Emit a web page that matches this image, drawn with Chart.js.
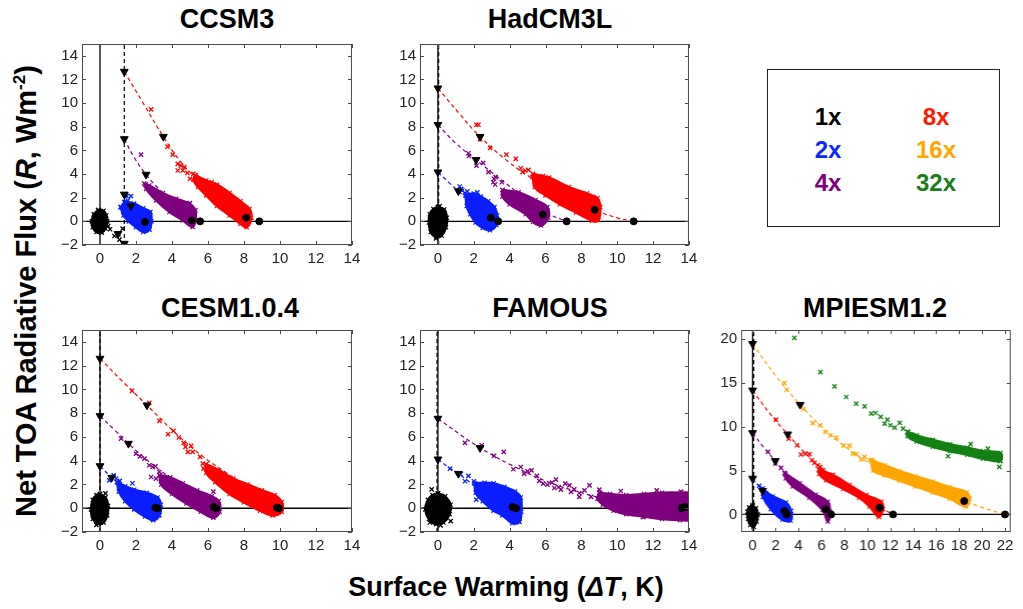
<!DOCTYPE html>
<html>
<head>
<meta charset="utf-8">
<script src="https://cdn.jsdelivr.net/npm/chart.js@4.4.1/dist/chart.umd.min.js"></script>
<style>
body { margin: 0; background: #fff; width: 1023px; height: 609px; overflow: hidden; position: relative; font-family: 'Liberation Sans', Arial, sans-serif; }
.wrap { position: absolute; }
.title { position: absolute; font-weight: bold; font-size: 27px; transform: translate(-50%, -50%); white-space: nowrap; color: #000; }
.ylab { position: absolute; left: 26px; top: 291px; font-weight: bold; font-size: 29px; white-space: nowrap; transform: translate(-50%, -50%) rotate(-90deg); }
.xlab { position: absolute; left: 506px; top: 587px; font-weight: bold; font-size: 27px; white-space: nowrap; transform: translate(-50%, -50%); }
.ylab sup { font-size: 17px; }
#legend { position: absolute; left: 767px; top: 69px; width: 231px; height: 156px; border: 1.5px solid #222; }
.lg { position: absolute; font-weight: bold; font-size: 24px; transform: translate(-50%, -50%); }
</style>
</head>
<body>
<div class="title" style="left:227px;top:19px">CCSM3</div>
<div class="title" style="left:550px;top:19px">HadCM3L</div>
<div class="title" style="left:230px;top:308px">CESM1.0.4</div>
<div class="title" style="left:550px;top:308px">FAMOUS</div>
<div class="title" style="left:875px;top:308px">MPIESM1.2</div>
<div class="ylab">Net TOA Radiative Flux (<i>R</i>, Wm<sup>-2</sup>)</div>
<div class="xlab">Surface Warming (<i>ΔT</i>, K)</div>
<div id="legend">
  <div class="lg" style="left:60px;top:47px;color:#000">1x</div>
  <div class="lg" style="left:60px;top:80px;color:#0a28ff">2x</div>
  <div class="lg" style="left:60px;top:113px;color:#7f007f">4x</div>
  <div class="lg" style="left:168px;top:47px;color:#ff1a00">8x</div>
  <div class="lg" style="left:168px;top:80px;color:#ffa500">16x</div>
  <div class="lg" style="left:168px;top:113px;color:#1a7d1a">32x</div>
</div>
<div class="wrap" id="w-ccsm3"><canvas id="ccsm3"></canvas></div>
<div class="wrap" id="w-had"><canvas id="had"></canvas></div>
<div class="wrap" id="w-cesm"><canvas id="cesm"></canvas></div>
<div class="wrap" id="w-fam"><canvas id="fam"></canvas></div>
<div class="wrap" id="w-mpi"><canvas id="mpi"></canvas></div>
<script>
const C1 = '#000000', C2 = '#0a1eff', C4 = '#7f007f', C8 = '#ff0000', C16 = '#ffa500', C32 = '#138013';

const X_TICKS = [0, 2, 4, 6, 8, 10, 12, 14];
const Y_TICKS = [-2, 0, 2, 4, 6, 8, 10, 12, 14];
const MPI_X_TICKS = [0, 2, 4, 6, 8, 10, 12, 14, 16, 18, 20, 22];
const MPI_Y_TICKS = [0, 5, 10, 15, 20];

// ---- CCSM3 ----
const CCSM3_FIX_X = 1.35;
const CCSM3_TRI = [[1.35,12.67],[3.52,7.16],[1.35,6.97],[2.56,3.96],[1.35,2.28],[1.72,1.29],[1.35,-1.88],[1.0,-1.05]];
const CCSM3_DOT = [[2.5,-0.05],[5.1,0.08],[5.56,0],[8.12,0.31],[8.85,0]];
const CCSM3_BLOB_1X = [[-0.1,0.95],[0.2,0.9],[0.35,0.5],[0.4,0],[0.3,-0.6],[0.1,-0.95],[-0.2,-0.9],[-0.4,-0.5],[-0.45,0],[-0.35,0.6],[-0.1,0.95]];
const CCSM3_SCAT_1X = [[0.56,-0.67],[0.8,-1.24],[1.02,-1.1],[1.08,-1.55],[1.26,-0.62],[0.45,-0.4]];
const CCSM3_BLOB_2X = [[1.15,1.2],[1.4,1.6],[1.9,1.5],[2.4,1.1],[2.8,0.8],[2.85,0.0],[2.75,-0.7],[2.4,-0.9],[2.0,-0.5],[1.6,0.0],[1.3,0.5],[1.15,1.2]];
const CCSM3_SCAT_2X = [[1.48,2.13],[1.72,2.13],[1.35,1.63],[1.55,1.75]];
const CCSM3_FIT_2X = [[1.35,2.28],[1.72,1.29],[2.1,0.55],[2.5,0]];
const CCSM3_BLOB_4X = [[2.52,3.12],[2.74,3.03],[3.49,2.39],[4.23,1.91],[4.97,1.49],[5.3,0.93],[5.3,0.1],[5.15,-0.48],[4.6,0.08],[3.86,0.79],[3.12,1.77],[2.56,2.75],[2.52,3.12]];
const CCSM3_SCAT_4X = [[2.28,5.65],[2.45,3.2],[5.0,1.55]];
const CCSM3_FIT_4X = [[1.35,6.97],[1.9,5.4],[2.56,3.96],[3.3,2.7],[4.2,1.5],[5.0,0.6],[5.56,0]];
const CCSM3_BLOB_8X = [[5.3,3.9],[5.9,3.45],[6.5,3.1],[7.2,2.4],[7.8,1.7],[8.3,1.05],[8.4,0.3],[8.15,-0.5],[7.8,-0.2],[7.2,0.5],[6.5,1.3],[5.9,2.2],[5.45,2.9],[5.2,3.5],[5.3,3.9]];
const CCSM3_SCAT_8X = [[2.84,9.47],[3.75,6.32],[4.04,5.65],[4.32,4.86],[4.5,4.72],[4.69,4.58],[4.6,4.3],[4.32,4.3],[4.85,4.1],[5.19,4.02],[5.34,3.74],[5.0,3.6],[7.57,1.83],[6.2,3.3]];
const CCSM3_FIT_8X = [[1.35,12.67],[2.4,10.0],[3.52,7.16],[4.5,5.0],[5.5,3.4],[6.5,2.1],[7.5,1.05],[8.2,0.4],[8.85,0]];

// ---- HadCM3L ----
const HAD_FIX_X = 0.04;
const HAD_TRI = [[0,11.26],[2.35,7.16],[0,8.17],[2.13,5.2],[0,4.16],[1.14,2.56]];
const HAD_DOT = [[2.95,0.31],[3.36,0],[5.85,0.59],[7.18,0],[8.74,0.98],[10.92,0]];
const HAD_BLOB_1X = [[0,1.2],[0.35,1.0],[0.5,0.3],[0.45,-0.5],[0.2,-1.2],[-0.1,-1.35],[-0.4,-0.9],[-0.5,-0.1],[-0.45,0.6],[-0.25,1.05],[0,1.2]];
const HAD_SCAT_1X = [[-0.1,-1.45],[0.1,1.3]];
const HAD_BLOB_2X = [[1.55,2.2],[2.0,2.35],[2.4,2.1],[2.8,1.7],[3.15,1.2],[3.3,0.5],[3.25,-0.3],[2.9,-0.75],[2.5,-0.55],[2.1,-0.1],[1.8,0.6],[1.6,1.3],[1.55,2.2]];
const HAD_SCAT_2X = [[1.21,2.95],[1.36,2.61],[1.64,2.53],[1.5,2.4],[1.3,2.75],[2.2,2.45]];
const HAD_FIT_2X = [[0,4.16],[0.6,3.3],[1.14,2.56],[1.8,1.7],[2.5,0.9],[2.95,0.4],[3.36,0]];
const HAD_BLOB_4X = [[3.6,2.65],[4.5,2.45],[5.45,1.8],[6.1,1.2],[6.15,0.3],[5.75,-0.35],[5.3,-0.05],[4.9,0.6],[4.0,1.45],[3.6,2.1],[3.6,2.65]];
const HAD_SCAT_4X = [[1.7,5.76],[1.73,5.53],[2.15,4.72],[2.52,4.94],[2.82,4.16],[3.13,3.6],[3.08,3.31],[3.19,3.12],[3.56,3.31],[3.69,2.42],[3.22,3.74]];
const HAD_FIT_4X = [[0,8.17],[1.0,6.6],[2.13,5.2],[3.2,3.9],[4.3,2.6],[5.3,1.4],[6.2,0.6],[7.18,0]];
const HAD_BLOB_8X = [[5.3,4.0],[6.2,3.7],[7.3,2.9],[8.3,2.35],[8.9,1.95],[9.05,1.2],[8.95,0.1],[8.6,0.05],[7.7,0.75],[6.8,1.45],[6.0,2.2],[5.4,2.9],[5.3,4.0]];
const HAD_SCAT_8X = [[2.14,8.17],[2.26,8.17],[2.91,6.21],[3.82,5.65],[4.34,5.28],[4.62,4.49],[4.87,4.3],[5.05,4.35],[5.28,3.74],[5.84,3.82],[4.72,4.16],[2.35,6.95]];
const HAD_FIT_8X = [[0,11.26],[1.2,9.1],[2.35,7.16],[3.8,5.2],[5.3,3.6],[6.8,2.4],[8.0,1.5],[9.0,0.8],[10.0,0.3],[10.92,0]];

// ---- CESM1.0.4 ----
const CESM_FIX_X = 0.0;
const CESM_TRI = [[0,12.6],[2.61,8.67],[0,7.77],[1.58,5.44],[0,3.56],[0.65,2.58]];
const CESM_DOT = [[3.08,0.05],[3.2,0],[6.32,0.1],[6.45,0],[9.83,0.05],[9.95,0]];
const CESM_BLOB_1X = [[0,1.2],[0.3,0.9],[0.45,0.2],[0.4,-0.6],[0.2,-1.2],[-0.1,-1.3],[-0.4,-0.9],[-0.5,-0.1],[-0.4,0.7],[-0.2,1.1],[0,1.2]];
const CESM_SCAT_1X = [[-0.2,-1.4],[0.3,1.25]];
const CESM_BLOB_2X = [[0.95,2.2],[1.4,1.85],[1.9,1.55],[2.6,1.3],[3.2,0.9],[3.38,0.3],[3.3,-0.6],[2.95,-1.0],[2.5,-0.7],[1.9,-0.1],[1.4,0.6],[1.05,1.4],[0.95,2.2]];
const CESM_SCAT_2X = [[0.76,2.77],[0.52,2.35],[0.9,2.5],[1.1,2.3],[1.8,2.1]];
const CESM_FIT_2X = [[0,3.56],[0.65,2.58],[1.4,1.6],[2.2,0.8],[3.2,0]];
const CESM_BLOB_4X = [[3.3,2.8],[3.9,2.6],[4.6,2.1],[5.4,1.5],[6.2,1.0],[6.6,0.6],[6.65,-0.3],[6.3,-0.8],[5.6,-0.3],[4.8,0.4],[4.0,1.2],[3.4,2.0],[3.3,2.8]];
const CESM_SCAT_4X = [[1.17,5.86],[2.0,4.6],[2.22,4.37],[2.47,4.18],[2.74,3.62],[2.93,3.47],[3.08,3.53],[2.84,2.63],[3.3,3.05],[3.11,2.49],[6.3,1.4]];
const CESM_FIT_4X = [[0,7.77],[0.8,6.6],[1.58,5.44],[2.5,4.2],[3.5,3.0],[4.6,1.9],[5.6,0.9],[6.45,0]];
const CESM_BLOB_8X = [[5.9,3.7],[6.6,3.2],[7.4,2.5],[8.2,2.0],[9.0,1.5],[9.7,1.1],[10.1,0.5],[10.1,-0.3],[9.6,-0.6],[8.9,-0.2],[8.0,0.5],[7.2,1.2],[6.4,2.2],[5.9,3.0],[5.9,3.7]];
const CESM_SCAT_8X = [[1.78,9.88],[2.74,8.87],[3.3,7.35],[3.78,6.23],[4.08,6.51],[4.38,5.95],[4.65,5.5],[4.75,5.16],[5.06,5.25],[4.88,4.74],[5.15,4.74],[5.56,4.32],[5.71,3.76],[5.75,3.33]];
const CESM_FIT_8X = [[0,12.6],[1.3,10.6],[2.61,8.67],[4.0,6.6],[5.5,4.6],[7.0,3.0],[8.5,1.5],[9.95,0]];

// ---- FAMOUS ----
const FAM_FIX_X = -0.05;
const FAM_TRI = [[0,7.55],[2.35,5.08],[0,4.12],[1.14,2.91]];
const FAM_DOT = [[4.16,0.1],[4.36,0],[13.6,0.02],[13.8,0.1]];
const FAM_BLOB_1X = [[0,1.25],[0.4,1.0],[0.7,0.3],[0.65,-0.5],[0.3,-1.2],[-0.1,-1.35],[-0.5,-0.9],[-0.7,-0.1],[-0.55,0.7],[-0.3,1.1],[0,1.25]];
const FAM_SCAT_1X = [[-0.35,1.59],[0.71,-1.08],[0.15,-1.44],[-0.45,-1.2]];
const FAM_BLOB_2X = [[2.05,2.1],[2.6,2.15],[3.1,2.1],[3.7,1.8],[4.3,1.4],[4.62,0.9],[4.65,-0.3],[4.55,-1.15],[4.15,-1.25],[3.6,-0.6],[3.1,-0.2],[2.5,0.6],[2.1,1.3],[2.05,2.1]];
const FAM_SCAT_2X = [[0.67,3.33],[1.27,2.86],[1.7,2.72],[1.51,2.27],[2.01,2.27],[2.14,0.72]];
const FAM_FIT_2X = [[0,4.12],[0.6,3.45],[1.14,2.91],[2.0,1.95],[3.0,1.0],[3.8,0.4],[4.36,0]];
const FAM_BLOB_4X = [[9.0,1.3],[9.6,1.2],[10.5,1.1],[11.5,1.2],[12.5,1.3],[13.5,1.3],[14.1,1.2],[14.1,-0.9],[13.5,-1.0],[12.5,-0.9],[11.5,-0.7],[10.5,-0.5],[9.8,-0.2],[9.2,0.3],[8.9,0.8],[9.0,1.3]];
const FAM_SCAT_4X = [[1.51,5.5],[2.44,5.3],[3.13,4.4],[3.67,4.74],[4.21,3.28],[4.62,3.47],[4.81,2.91],[5.0,3.1],[5.22,3.19],[5.52,2.72],[5.65,2.3],[5.87,2.07],[6.11,1.98],[6.36,2.15],[6.49,1.7],[6.58,2.41],[6.73,1.79],[6.86,1.57],[7.1,2.07],[7.42,1.37],[7.33,1.93],[7.6,1.59],[7.88,1.28],[7.88,0.95],[8.17,1.5],[8.45,1.93],[8.54,0.95],[9.0,1.57],[9.06,1.23],[13.57,1.4],[11.43,-0.75],[10.2,1.45],[12.2,1.5]];
const FAM_FIT_4X = [[0,7.55],[1.2,6.25],[2.35,5.08],[4.0,3.7],[6.0,2.3],[8.0,1.3],[10.0,0.6],[12.0,0.2],[14.0,0.0]];

// ---- MPIESM1.2 ----
const MPI_FIX_X = 0.1;
const MPI_TRI = [[0,19.43],[4.14,12.5],[0,14.13],[3.06,9.13],[0,9.28],[1.98,6.1],[0,4.09],[0.87,2.69]];
const MPI_DOT = [[2.77,0.38],[2.97,0],[6.35,0.57],[6.85,0],[11.07,0.76],[12.24,0],[18.44,1.52],[22.0,0]];
const MPI_BLOB_1X = [[0,1.0],[0.3,0.7],[0.45,0],[0.35,-0.8],[0.1,-1.4],[-0.2,-1.2],[-0.4,-0.5],[-0.45,0.3],[-0.3,0.8],[0,1.0]];
const MPI_BLOB_2X = [[0.8,2.9],[1.75,2.05],[2.9,1.35],[3.35,0.4],[3.3,-0.7],[2.6,-0.6],[1.6,0.6],[0.9,2.0],[0.8,2.9]];
const MPI_SCAT_2X = [[0.58,3.26],[0.87,2.95],[1.17,2.39]];
const MPI_FIT_2X = [[0,4.09],[0.87,2.69],[1.8,1.3],[2.5,0.5],[2.97,0]];
const MPI_BLOB_4X = [[2.8,4.7],[4.1,3.55],[5.5,2.25],[6.55,1.45],[6.75,0.3],[6.55,-0.8],[6.1,0.5],[4.95,1.9],[3.5,3.2],[2.9,4.1],[2.8,4.7]];
const MPI_SCAT_4X = [[1.34,7.12],[1.98,5.8],[2.48,5.3],[2.86,4.55]];
const MPI_FIT_4X = [[0,9.28],[1.0,7.6],[1.98,6.1],[3.0,4.5],[4.2,2.9],[5.5,1.4],[6.85,0]];
const MPI_BLOB_8X = [[5.8,5.1],[7.0,4.5],[8.45,3.35],[9.9,2.2],[11.2,1.45],[11.35,0.6],[11.0,-0.3],[10.2,0.9],[9.3,1.9],[7.9,2.9],[6.4,3.9],[5.8,4.6],[5.8,5.1]];
const MPI_SCAT_8X = [[2.04,10.8],[3.15,8.64],[3.88,7.88],[4.22,6.82],[4.6,6.93],[4.95,6.86],[5.16,6.17],[5.39,5.87],[5.68,5.6],[5.89,5.42],[6.12,5.04]];
const MPI_FIT_8X = [[0,14.13],[1.5,11.5],[3.06,9.13],[4.5,7.1],[6.0,5.3],[7.5,3.8],[9.0,2.4],[10.5,1.2],[12.24,0]];
const MPI_BLOB_16X = [[10.4,6.2],[11.5,5.6],[12.8,4.95],[14.2,4.35],[15.7,3.75],[17.2,3.1],[18.65,2.5],[18.9,1.8],[18.6,0.9],[17.2,1.8],[15.7,2.5],[14.2,3.2],[12.8,3.85],[11.5,4.45],[10.5,5.0],[10.4,6.2]];
const MPI_SCAT_16X = [[2.77,14.96],[2.97,14.2],[4.43,12.0],[5.24,10.4],[5.89,10.15],[6.35,9.39],[6.79,9.02],[7.28,8.75],[7.93,7.84],[8.45,7.84],[8.74,6.93],[9.03,6.86],[9.76,6.55],[9.47,6.25],[10.2,6.17],[10.5,5.87]];
const MPI_FIT_16X = [[0,19.43],[2.0,15.8],[4.14,12.5],[6.0,10.0],[8.0,7.8],[10.0,6.0],[12.0,4.6],[14.0,3.4],[16.0,2.5],[18.44,1.52],[20.0,0.8],[22.0,0]];
const MPI_BLOB_32X = [[13.5,9.4],[14.3,9.0],[15.7,8.5],[17.2,8.0],[18.7,7.6],[20.1,7.2],[21.6,7.0],[21.6,6.1],[20.1,6.35],[18.7,6.8],[17.2,7.2],[15.7,7.7],[14.3,8.3],[13.5,8.9],[13.5,9.4]];
const MPI_SCAT_32X = [[3.64,20.11],[5.91,16.21],[7.14,14.58],[8.16,13.37],[9.03,12.61],[9.76,12.31],[10.34,11.48],[10.72,11.55],[11.16,11.1],[11.5,10.34],[11.74,10.8],[12.0,10.15],[12.38,9.89],[12.82,10.42],[13.11,9.77],[13.55,9.39],[13.84,9.13],[14.13,8.9],[14.8,8.26],[15.21,8.37],[15.88,7.99],[16.32,7.69],[16.9,7.77],[17.48,7.5],[17.04,6.63],[17.92,7.31],[18.65,7.5],[18.94,7.01],[19.52,6.93],[20.1,6.74],[20.69,6.55],[21.42,6.55],[21.56,6.1],[21.5,5.42],[19.0,8.0],[20.5,7.5]];

const PANELS = [
  { id: 'ccsm3', box: [82, 44, 352, 245], xlim: [-1, 14], ylim: [-2, 15], xticks: X_TICKS, yticks: Y_TICKS, fixX: CCSM3_FIX_X,
    blobs: [[CCSM3_BLOB_1X, C1], [CCSM3_BLOB_2X, C2], [CCSM3_BLOB_4X, C4], [CCSM3_BLOB_8X, C8]],
    scats: [[CCSM3_SCAT_1X, C1], [CCSM3_SCAT_2X, C2], [CCSM3_SCAT_4X, C4], [CCSM3_SCAT_8X, C8]],
    fits: [[CCSM3_FIT_2X, C2], [CCSM3_FIT_4X, C4], [CCSM3_FIT_8X, C8]], tri: CCSM3_TRI, dots: CCSM3_DOT },
  { id: 'had', box: [420, 44, 689, 245], xlim: [-1, 14], ylim: [-2, 15], xticks: X_TICKS, yticks: Y_TICKS, fixX: HAD_FIX_X,
    blobs: [[HAD_BLOB_1X, C1], [HAD_BLOB_2X, C2], [HAD_BLOB_4X, C4], [HAD_BLOB_8X, C8]],
    scats: [[HAD_SCAT_1X, C1], [HAD_SCAT_2X, C2], [HAD_SCAT_4X, C4], [HAD_SCAT_8X, C8]],
    fits: [[HAD_FIT_2X, C2], [HAD_FIT_4X, C4], [HAD_FIT_8X, C8]], tri: HAD_TRI, dots: HAD_DOT },
  { id: 'cesm', box: [82, 330, 352, 532], xlim: [-1, 14], ylim: [-2, 15], xticks: X_TICKS, yticks: Y_TICKS, fixX: CESM_FIX_X,
    blobs: [[CESM_BLOB_1X, C1], [CESM_BLOB_2X, C2], [CESM_BLOB_4X, C4], [CESM_BLOB_8X, C8]],
    scats: [[CESM_SCAT_1X, C1], [CESM_SCAT_2X, C2], [CESM_SCAT_4X, C4], [CESM_SCAT_8X, C8]],
    fits: [[CESM_FIT_2X, C2], [CESM_FIT_4X, C4], [CESM_FIT_8X, C8]], tri: CESM_TRI, dots: CESM_DOT },
  { id: 'fam', box: [420, 330, 689, 532], xlim: [-1, 14], ylim: [-2, 15], xticks: X_TICKS, yticks: Y_TICKS, fixX: FAM_FIX_X,
    blobs: [[FAM_BLOB_1X, C1], [FAM_BLOB_2X, C2], [FAM_BLOB_4X, C4]],
    scats: [[FAM_SCAT_1X, C1], [FAM_SCAT_2X, C2], [FAM_SCAT_4X, C4]],
    fits: [[FAM_FIT_2X, C2], [FAM_FIT_4X, C4]], tri: FAM_TRI, dots: FAM_DOT },
  { id: 'mpi', box: [741, 330, 1010, 532], xlim: [-1, 22.5], ylim: [-2, 21], xticks: MPI_X_TICKS, yticks: MPI_Y_TICKS, fixX: MPI_FIX_X,
    blobs: [[MPI_BLOB_1X, C1], [MPI_BLOB_2X, C2], [MPI_BLOB_4X, C4], [MPI_BLOB_8X, C8], [MPI_BLOB_16X, C16], [MPI_BLOB_32X, C32]],
    scats: [[MPI_SCAT_2X, C2], [MPI_SCAT_4X, C4], [MPI_SCAT_8X, C8], [MPI_SCAT_16X, C16], [MPI_SCAT_32X, C32]],
    fits: [[MPI_FIT_2X, C2], [MPI_FIT_4X, C4], [MPI_FIT_8X, C8], [MPI_FIT_16X, C16]], tri: MPI_TRI, dots: MPI_DOT }
];

const pts = a => a.map(([x, y]) => ({ x, y }));
const fmt = v => v < 0 ? '\u2212' + Math.abs(v) : String(v);
const FONT = { family: "'Liberation Sans', Arial, sans-serif", size: 15 };

// box round the axes with inward ticks on all four sides
const framePlugin = {
  id: 'frame',
  afterDatasetsDraw(chart) {
    const { ctx, chartArea: a, scales: { x, y } } = chart;
    ctx.save();
    ctx.strokeStyle = '#4a4a4a';
    ctx.lineWidth = 1;
    ctx.strokeRect(a.left + 0.5, a.top + 0.5, a.right - a.left - 1, a.bottom - a.top - 1);
    ctx.beginPath();
    x.ticks.forEach(t => {
      const px = Math.round(x.getPixelForValue(t.value)) + 0.5;
      ctx.moveTo(px, a.bottom); ctx.lineTo(px, a.bottom - 4);
      ctx.moveTo(px, a.top); ctx.lineTo(px, a.top + 4);
    });
    y.ticks.forEach(t => {
      const py = Math.round(y.getPixelForValue(t.value)) + 0.5;
      ctx.moveTo(a.left, py); ctx.lineTo(a.left + 4, py);
      ctx.moveTo(a.right, py); ctx.lineTo(a.right - 4, py);
    });
    ctx.stroke();
    ctx.restore();
  }
};

function buildDatasets(p) {
  const ds = [];
  ds.push({ data: p.xlim.map(x => ({ x, y: 0 })), showLine: true, borderColor: '#000', borderWidth: 1.3, pointRadius: 0, order: 5 });
  ds.push({ data: p.ylim.map(y => ({ x: 0, y })), showLine: true, borderColor: '#000', borderWidth: 1.3, pointRadius: 0, order: 5 });
  ds.push({ data: p.ylim.map(y => ({ x: p.fixX, y })), showLine: true, borderColor: '#000', borderWidth: 1.2, borderDash: [4, 3], pointRadius: 0, order: 5 });
  p.blobs.forEach(([a, c]) => ds.push({
    data: pts(a), showLine: true, fill: 'shape', tension: 0.35,
    backgroundColor: c, borderColor: c, borderWidth: 2.5,
    pointStyle: 'crossRot', pointRadius: 3, pointBorderWidth: 1.2, pointBorderColor: c, order: 3
  }));
  p.scats.forEach(([a, c]) => ds.push({
    data: pts(a), showLine: false, pointStyle: 'crossRot', pointRadius: 3,
    pointBorderWidth: 1.3, pointBorderColor: c, borderColor: c, order: 2
  }));
  p.fits.forEach(([a, c]) => ds.push({
    data: pts(a), showLine: true, borderColor: c, borderWidth: 1.2, borderDash: [4, 3],
    tension: 0.4, pointRadius: 0, order: 1
  }));
  ds.push({ data: pts(p.tri), pointStyle: 'triangle', rotation: 180, pointRadius: 4.5,
    backgroundColor: '#000', pointBackgroundColor: '#000', pointBorderColor: '#000', order: 0 });
  ds.push({ data: pts(p.dots), pointStyle: 'circle', pointRadius: 3.5,
    backgroundColor: '#000', pointBackgroundColor: '#000', pointBorderColor: '#000', order: 0 });
  return ds;
}

function makeChart(p) {
  const wrap = document.getElementById('w-' + p.id);
  const [l, t, r, b] = p.box;
  wrap.style.left = (l - 40) + 'px';
  wrap.style.top = (t - 10) + 'px';
  wrap.style.width = (r - l + 60) + 'px';
  wrap.style.height = (b - t + 40) + 'px';
  const chart = new Chart(document.getElementById(p.id), {
    type: 'scatter',
    data: { datasets: buildDatasets(p) },
    options: {
      responsive: true, maintainAspectRatio: false, animation: false,
      devicePixelRatio: 1,
      layout: { padding: { top: 4, right: 4, left: 0, bottom: 0 } },
      plugins: { legend: { display: false }, tooltip: { enabled: false } },
      scales: {
        x: {
          type: 'linear', min: p.xlim[0], max: p.xlim[1],
          grid: { display: false, drawTicks: false }, border: { display: false },
          afterBuildTicks: s => { s.ticks = p.xticks.map(v => ({ value: v })); },
          ticks: { autoSkip: false, maxRotation: 0, padding: 5, color: '#222', font: FONT, callback: fmt },
          afterFit: s => { s.height = 28; }
        },
        y: {
          type: 'linear', min: p.ylim[0], max: p.ylim[1],
          grid: { display: false, drawTicks: false }, border: { display: false },
          afterBuildTicks: s => { s.ticks = p.yticks.map(v => ({ value: v })); },
          ticks: { autoSkip: false, padding: 4, color: '#222', font: FONT, callback: fmt },
          afterFit: s => { s.width = 40; }
        }
      }
    },
    plugins: [framePlugin]
  });
  // shift and size the canvas so the plot box lands where it sits in the figure
  const a = chart.chartArea;
  const W = parseFloat(wrap.style.width), H = parseFloat(wrap.style.height);
  const L = parseFloat(wrap.style.left), T = parseFloat(wrap.style.top);
  wrap.style.left = (L + l - (L + a.left)) + 'px';
  wrap.style.top = (T + t - (T + a.top)) + 'px';
  wrap.style.width = (W + (r - l) - (a.right - a.left)) + 'px';
  wrap.style.height = (H + (b - t) - (a.bottom - a.top)) + 'px';
  chart.resize();
  return chart;
}

PANELS.forEach(makeChart);
</script>
</body>
</html>
